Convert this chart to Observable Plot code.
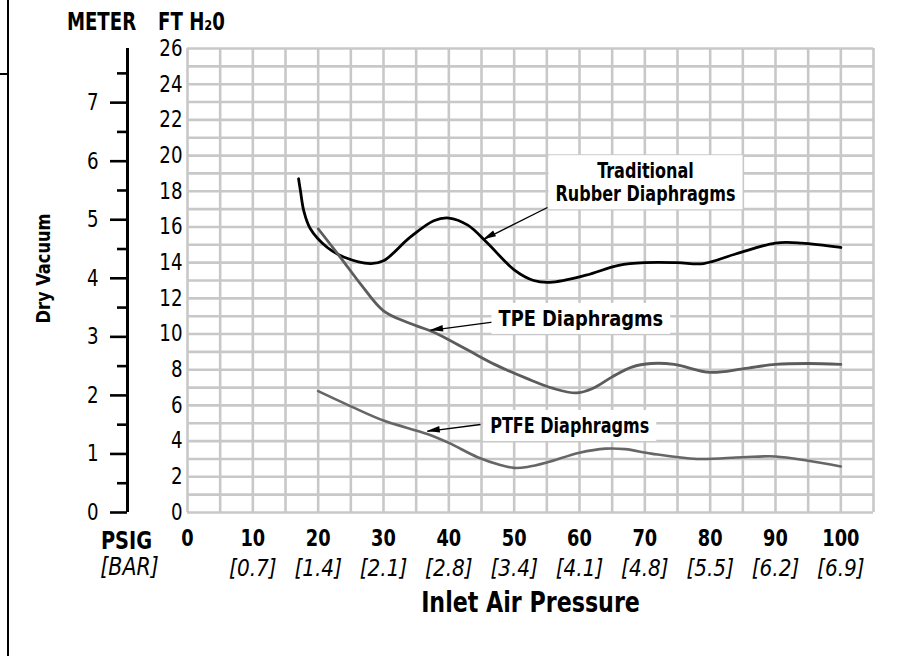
<!DOCTYPE html>
<html><head><meta charset="utf-8">
<script src="https://cdn.jsdelivr.net/npm/d3@7"></script>
<script src="https://cdn.jsdelivr.net/npm/@observablehq/plot@0.6"></script>
<style>
body{margin:0;background:#fff;}
#wrap{position:relative;width:916px;height:656px;overflow:hidden;background:#fff;}
#wrap svg{position:absolute;left:0;top:0;}
.bv{position:absolute;left:7px;top:0;width:2px;height:656px;background:#000;}
.bh{position:absolute;left:0;top:73px;width:8px;height:2px;background:#000;}
</style></head><body>
<div id="wrap"></div>
<script>
const FONT = '"Liberation Sans Narrow","DejaVu Sans Condensed","Arial Narrow",sans-serif';
const FT_PER_M = 3.28084;

// ---- data ----
const tradPsi = [17, 17.3, 17.8, 18.8, 21.4, 24, 28, 30, 34, 37.7, 40, 42.9, 45.9, 50, 53, 55.5, 61, 66, 70, 75, 79, 84, 90, 94, 100];
const tradFt  = [18.7, 18.0, 16.9, 15.9, 14.85, 14.3, 13.95, 14.1, 15.4, 16.35, 16.5, 16.1, 15.1, 13.6, 13.0, 12.9, 13.3, 13.85, 14.0, 14.0, 13.95, 14.5, 15.1, 15.1, 14.85];

const tpePsi = [20, 23.4, 26.5, 30, 34, 37.7, 42.9, 47, 52, 56, 59.5, 62, 65, 68, 71, 74.5, 80, 85, 90, 95, 100];
const tpeFt  = [15.9, 14.3, 12.8, 11.3, 10.6, 10.1, 9.1, 8.3, 7.5, 6.95, 6.7, 6.95, 7.6, 8.15, 8.35, 8.3, 7.85, 8.05, 8.3, 8.35, 8.3];

const ptfePsi = [20, 25, 30, 36.7, 40, 44.4, 48, 50, 52, 55, 60, 64, 67, 71, 78, 85, 90, 95, 100];
const ptfeFt  = [6.8, 5.95, 5.15, 4.4, 3.9, 3.1, 2.65, 2.5, 2.55, 2.8, 3.35, 3.58, 3.55, 3.3, 3.0, 3.1, 3.14, 2.9, 2.58];

const psiTicks = [0, 10, 20, 30, 40, 50, 60, 70, 80, 90, 100];
const barPsi = [10, 20, 30, 40, 50, 60, 70, 80, 90, 100];
const barLabels = ["[0.7]", "[1.4]", "[2.1]", "[2.8]", "[3.4]", "[4.1]", "[4.8]", "[5.5]", "[6.2]", "[6.9]"];
const ftTicks = [0, 2, 4, 6, 8, 10, 12, 14, 16, 18, 20, 22, 24, 26];
const meterMajor = [0, 1, 2, 3, 4, 5, 6, 7];
const meterMinor = [0.5, 1.5, 2.5, 3.5, 4.5, 5.5, 6.5, 7.5];

const annotText = ["Traditional\nRubber Diaphragms", "TPE Diaphragms", "PTFE Diaphragms"];
const annotPsi = [70.1, 60.2, 58.5];
const annotFt = [18.5, 10.87, 4.87];
const annotSqueeze = [0.81, 0.9, 0.81];

const arrowFromPsi = [55.1, 48.7, 44.85];
const arrowFromFt  = [17.09, 10.76, 4.93];
const arrowToPsi   = [45.3, 37.2, 36.7];
const arrowToFt    = [15.29, 10.2, 4.54];

const toRows = (xs, ys) => xs.map((x, i) => ({x, y: ys[i]}));
const arrows = arrowFromPsi.map((x1, i) => ({x1, y1: arrowFromFt[i], x2: arrowToPsi[i], y2: arrowToFt[i]}));
const annots = annotText.map((t, i) => ({t, x: annotPsi[i], y: annotFt[i], i}));

function arrowHeads(index, scales) {
  const g = d3.create("svg:g").attr("aria-label", "arrowheads");
  for (const a of arrows) {
    const x1 = scales.x(a.x1), y1 = scales.y(a.y1), x2 = scales.x(a.x2), y2 = scales.y(a.y2);
    const ang = Math.atan2(y2 - y1, x2 - x1);
    const L = 13, w = 3.2;
    const bx = x2 - L * Math.cos(ang), by = y2 - L * Math.sin(ang);
    const nx = -Math.sin(ang) * w, ny = Math.cos(ang) * w;
    g.append("path")
      .attr("d", `M${x2},${y2}L${bx + nx},${by + ny}L${bx - nx},${by - ny}Z`)
      .attr("fill", "#000");
  }
  return g.node();
}

const gridStyle = {stroke: "#c8c8c8", strokeOpacity: 1, strokeWidth: 2.6};
const T = {textAnchor: "middle", lineAnchor: "middle", fill: "#000"};
const tag = (name) => ({ariaLabel: () => name});

const chart = Plot.plot({
  width: 916,
  height: 656,
  marginLeft: 187,
  marginRight: 43,
  marginTop: 48,
  marginBottom: 144,
  style: {fontFamily: FONT, background: "transparent", color: "#000", overflow: "visible"},
  x: {domain: [0, 105], axis: null},
  y: {domain: [0, 26]},
  marks: [
    Plot.gridX(d3.range(0, 106, 5), gridStyle),
    Plot.gridY(d3.range(0, 27, 1), gridStyle),
    // FT H2O axis
    Plot.axisY(ftTicks, {tickSize: 0, tickPadding: 5, fontSize: 23, label: null}),
    // METER axis
    Plot.ruleX([0], {y1: 0, y2: 26, dx: -60, stroke: "#000", strokeWidth: 3}),
    Plot.axisY(meterMajor.map(m => m * FT_PER_M), {dx: -60, tickSize: 17, tickPadding: 12, strokeWidth: 2.6, fontSize: 23, label: null, tickFormat: d => String(Math.round(d / FT_PER_M))}),
    Plot.axisY(meterMinor.map(m => m * FT_PER_M), {dx: -60, tickSize: 10, strokeWidth: 2.6, label: null, tickFormat: () => ""}),
    // curves
    Plot.line(toRows(tradPsi, tradFt), {x: "x", y: "y", curve: "catmull-rom", stroke: "#000", strokeWidth: 2.8}),
    Plot.line(toRows(tpePsi, tpeFt), {x: "x", y: "y", curve: "catmull-rom", stroke: "#5c5c5c", strokeWidth: 2.8}),
    Plot.line(toRows(ptfePsi, ptfeFt), {x: "x", y: "y", curve: "catmull-rom", stroke: "#666", strokeWidth: 2.6}),
    // arrows
    Plot.link(arrows, {x1: "x1", y1: "y1", x2: "x2", y2: "y2", stroke: "#000", strokeWidth: 1.3}),
    arrowHeads,
    // annotations
    Plot.text(annots, {x: "x", y: "y", text: "t", fontSize: 22, fontWeight: "bold", lineHeight: 1.05, ...T, ariaLabel: d => "annotation-" + d.i}),
    // x tick labels
    Plot.text(psiTicks, {x: d => d, frameAnchor: "bottom", dy: 26, text: d => String(d), fontSize: 23, fontWeight: "bold", ...T, ...tag("psi-labels")}),
    Plot.text(barLabels, {x: (d, i) => barPsi[i], frameAnchor: "bottom", dy: 56, text: d => d, fontSize: 23, fontStyle: "italic", ...T, ...tag("bar-labels")}),
    Plot.text(["PSIG"], {frameAnchor: "bottom-left", dx: -61, dy: 28, text: d => d, fontSize: 25, fontWeight: "bold", ...T, ...tag("psig")}),
    Plot.text(["[BAR]"], {frameAnchor: "bottom-left", dx: -58, dy: 55, text: d => d, fontSize: 24, fontStyle: "italic", ...T, ...tag("bar-title")}),
    Plot.text(["Inlet Air Pressure"], {frameAnchor: "bottom", dy: 91, text: d => d, fontSize: 28, fontWeight: "bold", ...T, ...tag("x-title")}),
    // header labels
    Plot.text(["METER"], {frameAnchor: "top-left", dx: -86, dy: -26, text: d => d, fontSize: 24, fontWeight: "bold", ...T, ...tag("meter-title")}),
    Plot.text(["FT H\u20820"], {frameAnchor: "top-left", dx: 4, dy: -26, text: d => d, fontSize: 24, fontWeight: "bold", ...T, ...tag("ft-title")}),
    // y title
    Plot.text(["Dry Vacuum"], {frameAnchor: "left", dx: -144, dy: -12, rotate: -90, text: d => d, fontSize: 19, fontWeight: "bold", ...T, ...tag("y-title")})
  ]
});

const wrap = document.getElementById("wrap");
wrap.appendChild(chart);
const bv = document.createElement("div"); bv.className = "bv"; wrap.appendChild(bv);
const bh = document.createElement("div"); bh.className = "bh"; wrap.appendChild(bh);

// condense text horizontally to imitate the condensed typeface
function squeeze(sel, f) {
  chart.querySelectorAll(sel).forEach(function (t) {
    const spans = t.querySelectorAll("tspan");
    const els = spans.length ? Array.from(spans) : [t];
    for (const el of els) {
      const len = el.getComputedTextLength();
      if (len > 0) {
        el.setAttribute("textLength", (len * f).toFixed(2));
        el.setAttribute("lengthAdjust", "spacingAndGlyphs");
      }
    }
  });
}
annotSqueeze.forEach((f, i) => squeeze(`text[aria-label="annotation-${i}"]`, f));
squeeze('text[aria-label="psi-labels"]', 0.86);
squeeze('text[aria-label="bar-labels"]', 0.97);
squeeze('text[aria-label="psig"]', 0.86);
squeeze('text[aria-label="bar-title"]', 0.95);
squeeze('text[aria-label="x-title"]', 0.88);
squeeze('text[aria-label="meter-title"]', 0.84);
squeeze('text[aria-label="ft-title"]', 0.84);
squeeze('text[aria-label="y-title"]', 0.95);
squeeze('g[aria-label="y-axis tick label"] text', 0.88);

// white backing boxes behind annotation labels
const annTexts = Array.from(chart.querySelectorAll('text[aria-label^="annotation-"]'));
if (annTexts.length) {
  const g = annTexts[0].parentNode;
  const bg = d3.create("svg:g").attr("aria-label", "annotation-bg");
  for (const t of annTexts) {
    const b = t.getBBox();
    bg.append("rect")
      .attr("x", b.x - 7).attr("y", b.y - 3)
      .attr("width", b.width + 14).attr("height", b.height + 6)
      .attr("fill", "#fff")
      .attr("transform", t.getAttribute("transform"));
  }
  const gt = g.getAttribute("transform");
  if (gt) bg.attr("transform", gt);
  g.parentNode.insertBefore(bg.node(), g);
}
</script>
</body></html>
